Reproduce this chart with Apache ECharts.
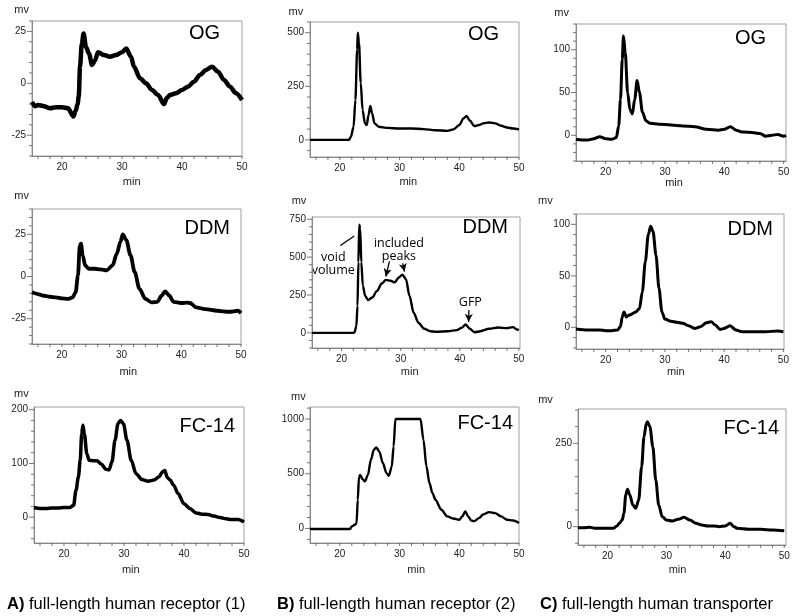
<!DOCTYPE html>
<html>
<head>
<meta charset="utf-8">
<script src="https://cdn.jsdelivr.net/npm/echarts@6/dist/echarts.min.js"></script>
<style>html,body{margin:0;padding:0;background:#fff;}#c{width:800px;height:616px;}</style>
</head>
<body>
<div id="c"></div>
<script>
// ---------------- DATA ----------------
const xLabels = [20, 30, 40, 50];

// A) receptor (1)
const a1 = [[15,-9],[15.5,-11],[16,-10.4],[17,-11],[18,-12],[19,-11.5],[20,-11.5],[21,-12],[21.9,-16],[22.3,-13],[22.6,-10],[22.8,-6],[23.0,8],[23.3,19],[23.6,24],[24.0,17.5],[24.5,14.4],[25,8.8],[25.5,11],[26,15],[27,13.6],[28,12.8],[29,13.6],[30,15],[30.7,16.7],[31.5,12.8],[32,8],[33,2.4],[34,0],[35,-3.2],[36,-5.6],[37,-10],[37.5,-7],[38,-5.6],[39,-4.8],[40,-3.2],[41,-1.6],[42,0.8],[43,4],[44,6.4],[45,8],[46,5.6],[47,1.6],[48,-1.6],[49,-4.8],[50,-8]];
const a2 = [[15,-9.4],[16,-10.4],[17,-11.4],[18,-12],[19,-12.4],[20,-13],[21,-13.3],[21.8,-12.4],[22.3,-9.4],[22.7,0.6],[23.0,18.5],[23.2,19.5],[23.5,12.5],[23.9,6.6],[24.5,4.6],[25.5,4.6],[26.5,4.2],[27.5,3.6],[28.5,6.6],[29.2,13.5],[29.8,20.5],[30.2,25],[30.8,21.5],[31.5,12.5],[32.2,2.6],[33,-7.4],[34,-13.3],[35,-15.3],[36,-15],[36.7,-11.4],[37.3,-8.8],[38,-11.4],[38.7,-15],[40,-15.7],[41,-15.5],[41.5,-15.7],[42.5,-18.3],[44,-19.3],[46,-20.3],[48,-20.9],[49.5,-20.3],[50,-21.7]];
const a3 = [[15,18],[16,16],[17,16],[18,17],[19,17],[20,18],[21,18],[21.6,22],[22.0,50],[22.4,75],[22.7,106],[22.95,155],[23.15,171],[23.4,155],[23.8,118],[24.2,106],[25,105],[25.5,105],[26.2,99],[27,89],[27.5,88],[28,103],[28.5,143],[29,174],[29.4,180],[29.9,174],[30.5,143],[31.2,106],[32,81],[33,70],[34,67],[35,69],[35.8,75],[36.5,85],[36.8,87],[37.2,74],[37.7,69],[38.3,59],[39,44],[40,25],[41,16],[42,8],[43,5.6],[44,5],[45,2],[46,-0.6],[47,-3],[48,-4.3],[49,-4.3],[50,-9]];

// B) receptor (2)
const b1 = [[15,0],[18,0],[21.5,0],[21.85,14],[22.3,61],[22.6,186],[22.9,422],[23.0,500],[23.2,453],[23.5,265],[23.8,140],[24.2,77],[24.5,69],[24.8,116],[25.1,158],[25.4,124],[25.8,77],[26.5,61],[28,56],[30,53],[32,53],[34,50],[36,45],[38,42],[39,49],[40,69],[40.7,100],[41.2,111],[41.8,89],[42.5,64],[43.3,69],[44,77],[45,81],[46,77],[47,66],[48,58],[49,53],[50,49]];
const b2 = [[15,0],[18,0],[22.0,0],[22.2,4],[22.5,44],[22.7,177],[22.85,466],[23.0,714],[23.15,688],[23.35,466],[23.6,311],[24,244],[24.5,217],[25.2,233],[26,277],[26.8,326],[27.5,350],[28.3,344],[29,333],[29.7,366],[30.3,384],[30.9,355],[31.5,244],[32.2,133],[33,67],[34,27],[35,11],[36,7],[38,11],[39.5,18],[40.3,33],[41.0,55],[41.7,27],[42.5,4],[43.5,11],[45,27],[46.5,35],[48,31],[49,38],[49.7,22],[50,18]];
const b3 = [[15,-5],[18,-5],[21.7,-5],[22,18],[22.5,34],[22.8,49],[23.0,262],[23.2,470],[23.4,490],[23.8,451],[24.2,430],[24.7,490],[25.2,628],[25.7,720],[26.1,741],[26.6,704],[27.2,598],[27.8,506],[28.2,482],[28.7,567],[29.0,750],[29.3,1000],[29.5,1000],[33.5,1000],[34,811],[34.5,567],[35,415],[35.5,323],[36,262],[37,171],[38,110],[39,91],[40,79],[40.5,110],[41.0,155],[41.5,110],[42,73],[42.5,67],[43.3,94],[44,128],[45,149],[46,140],[47,110],[48,79],[49,73],[50,49]];

// C) transporter
const c1 = [[15,-4.7],[16,-5.5],[17,-5.5],[18,-4],[19,-1.6],[20,-4],[21,-4.7],[21.8,-2.7],[22.2,11],[22.5,42],[22.8,89],[23.0,116],[23.3,97],[23.7,50],[24.1,30],[24.5,25],[24.9,42],[25.3,64],[25.7,50],[26.2,27],[26.8,17],[27.5,14],[29,13],[31,12],[33,11],[35,10],[37,7],[39,6],[40,7],[41,10],[42,6],[43,4],[45,3],[46,2],[47,-1],[48,0],[49,1],[50,-1],[50.4,0]];
const c2 = [[15,-1.6],[17,-2.6],[19,-2.6],[20,-3.2],[21,-3.2],[22,-2.6],[22.5,0.6],[22.8,10],[23.1,15],[23.5,10],[24,12],[25,14.6],[25.7,18],[26.2,34.6],[26.7,64],[27.2,90],[27.6,98],[28.0,93],[28.5,70],[29.0,38],[29.5,15],[30,8],[31,6],[32,5],[33,4],[34,1.6],[35,-1],[36,0.6],[37,4.5],[37.8,5.5],[38.5,2.3],[39.3,-2],[40,-1],[41,1.6],[42,-2.6],[43,-4.2],[45,-4.2],[47,-4.2],[49,-3.6],[50,-4.2]];
const c3 = [[15,-3],[16,-3],[17,-2],[18,-5],[19,-5],[20,-5],[21,-5],[21.6,2],[22,10],[22.5,20],[22.8,40],[23.1,95],[23.4,112],[23.8,95],[24.3,65],[24.8,55],[25.3,80],[25.8,180],[26.2,270],[26.6,310],[26.8,315],[27.2,300],[27.7,240],[28.2,140],[28.7,65],[29.3,30],[30,20],[31,17],[32,22],[33,28],[34,20],[35,10],[36,5],[37,2],[38,2],[39,0],[40,2],[40.8,10],[41.5,0],[42,-5],[44,-8],[46,-8],[48,-10],[50,-12]];

// Y tick labels per panel
const yMajA1 = [-25, 0, 25], yMajA2 = [-25, 0, 25], yMajA3 = [0, 100, 200];
const yMajB1 = [0, 250, 500], yMajB2 = [0, 250, 500, 750], yMajB3 = [0, 500, 1000];
const yMajC1 = [0, 50, 100], yMajC2 = [0, 50, 100], yMajC3 = [0, 250];

const titles = ['OG', 'OG', 'OG', 'DDM', 'DDM', 'DDM', 'FC-14', 'FC-14', 'FC-14'];
const captions = [['A)', ' full-length human receptor (1)'], ['B)', ' full-length human receptor (2)'], ['C)', ' full-length human transporter']];

// ---------------- LAYOUT ----------------
function seq(a, b, s) { const r = []; for (let v = a; v <= b + 1e-9; v += s) r.push(+v.toFixed(6)); return r; }
const panels = [
  {data: a1, maj: yMajA1, grid: {left: 32, top: 21, width: 210, height: 135}, y: [-35, 30], xmax: 50, step: 5, lw: 4.5, title: [220, 33], mv: [21.7, 10], min: [131.7, 182]},
  {data: b1, maj: yMajB1, grid: {left: 310, top: 22, width: 209, height: 135}, y: [-80, 550], xmax: 50, step: 50, lw: 2.4, title: [499, 34], mv: [295.8, 11.7], min: [408.3, 181.7]},
  {data: c1, maj: yMajC1, grid: {left: 576, top: 24, width: 210, height: 137}, y: [-30, 130], xmax: 50.4, step: 10, lw: 3, title: [766, 38.5], mv: [561.7, 13], min: [674, 182.7]},
  {data: a2, maj: yMajA2, grid: {left: 32, top: 209, width: 209, height: 135}, y: [-40, 40], xmax: 50, step: 5, lw: 3.8, title: [230, 228], mv: [21.7, 196], min: [128.3, 371.7]},
  {data: b2, maj: yMajB2, grid: {left: 312, top: 217, width: 208, height: 131}, y: [-100, 765], xmax: 50.2, step: 50, lw: 2.4, title: [508, 227], mv: [299, 201], min: [409.7, 371.7]},
  {data: c2, maj: yMajC2, grid: {left: 576, top: 214, width: 208, height: 135}, y: [-21, 110], xmax: 50.1, step: 10, lw: 3, title: [773, 229.7], mv: [545.3, 201.3], min: [675.8, 371.7]},
  {data: a3, maj: yMajA3, grid: {left: 34, top: 407, width: 210, height: 136}, y: [-48, 205], xmax: 50, step: 20, lw: 3.5, title: [235, 426], mv: [21.3, 394], min: [130.8, 570]},
  {data: b3, maj: yMajB3, grid: {left: 310, top: 407, width: 209, height: 136}, y: [-133, 1110], xmax: 50, step: 100, lw: 2.4, title: [513, 423], mv: [298.3, 396.7], min: [416.2, 570]},
  {data: c3, maj: yMajC3, grid: {left: 578, top: 409, width: 208, height: 136}, y: [-55, 353], xmax: 50.3, step: 50, lw: 3, title: [779, 428.5], mv: [545.5, 400], min: [677.5, 570]}
];

const FONT = 'Liberation Sans, Arial, Helvetica, sans-serif';
const plain = v => String(v);
const TICK = '#555';
const grids = [], xAxes = [], yAxes = [], series = [], tickSeries = [];
panels.forEach((p, i) => {
  grids.push(Object.assign({show: true, borderColor: '#a0a0a0', borderWidth: 1, backgroundColor: 'transparent'}, p.grid));
  xAxes.push({
    type: 'value', gridIndex: i, min: 15, max: p.xmax, position: 'bottom',
    axisLine: {show: true, onZero: false, lineStyle: {color: '#888', width: 1}},
    axisTick: {show: false},
    axisLabel: {show: true, customValues: xLabels, margin: 6, fontSize: 10, color: '#222', fontFamily: FONT, formatter: plain},
    splitLine: {show: false}
  });
  yAxes.push({
    type: 'value', gridIndex: i, min: p.y[0], max: p.y[1], position: 'left',
    axisLine: {show: true, onZero: false, lineStyle: {color: '#888', width: 1}},
    axisTick: {show: false},
    axisLabel: {show: true, customValues: p.maj, margin: 6, fontSize: 10, color: '#222', fontFamily: FONT, formatter: plain},
    splitLine: {show: false}
  });
  series.push({
    type: 'line', xAxisIndex: i, yAxisIndex: i, data: p.data,
    showSymbol: false, symbol: 'none', smooth: 0.3, smoothMonotone: 'x',
    lineStyle: {color: '#000', width: p.lw, join: 'round'}, silent: true, clip: true
  });
  // tick marks, placed through the axes' own scales (axis min = edge of the plot)
  const lo = Math.ceil(p.y[0] / p.step) * p.step;
  const minors = seq(lo, p.y[1], p.step).filter(v => p.maj.indexOf(v) < 0);
  const tickBase = {type: 'scatter', xAxisIndex: i, yAxisIndex: i, silent: true, clip: false, z: 4,
    symbol: 'rect', itemStyle: {color: TICK}, emphasis: {disabled: true}, animation: false};
  tickSeries.push(Object.assign({}, tickBase, {data: p.maj.map(v => [15, v]), symbolSize: [5, 1], symbolOffset: [-2.5, 0]}));
  tickSeries.push(Object.assign({}, tickBase, {data: minors.map(v => [15, v]), symbolSize: [3, 1], symbolOffset: [-1.5, 0]}));
  tickSeries.push(Object.assign({}, tickBase, {data: seq(16, 50, 2).map(v => [v, p.y[0]]), symbolSize: [1, 3], symbolOffset: [0, 1.5]}));
});

// B2 annotations (data coordinates)
series[4].markLine = {
  silent: true, animation: false, symbol: ['none', 'none'], symbolSize: [6, 8],
  label: {show: false}, lineStyle: {color: '#000', width: 1.3, type: 'solid'},
  emphasis: {disabled: true},
  data: [
    [{coord: [19.8, 577]}, {coord: [22.15, 639]}],
    [{coord: [28.1, 472]}, {coord: [27.5, 372], symbol: 'arrow'}],
    [{coord: [30.35, 459]}, {coord: [30.65, 405], symbol: 'arrow'}],
    [{coord: [41.55, 150]}, {coord: [41.5, 72], symbol: 'arrow'}]
  ]
};
const notes = [
  {text: 'void\nvolume', at: [18.6, 457]},
  {text: 'included\npeaks', at: [29.7, 545]},
  {text: 'GFP', at: [41.8, 200]}
];

const chart = echarts.init(document.getElementById('c'), null, {renderer: 'canvas'});
chart.setOption({
  animation: false,
  backgroundColor: '#fff',
  grid: grids, xAxis: xAxes, yAxis: yAxes, series: series.concat(tickSeries)
});

const g = [];
panels.forEach((p, i) => {
  g.push({type: 'text', x: p.title[0], y: p.title[1], silent: true,
    style: {text: titles[i], font: '20px ' + FONT, fill: '#000', textAlign: 'right', textVerticalAlign: 'middle'}});
  g.push({type: 'text', x: p.mv[0], y: p.mv[1], silent: true,
    style: {text: 'mv', font: '11px ' + FONT, fill: '#222', textAlign: 'center', textVerticalAlign: 'middle'}});
  g.push({type: 'text', x: p.min[0], y: p.min[1], silent: true,
    style: {text: 'min', font: '11px ' + FONT, fill: '#222', textAlign: 'center', textVerticalAlign: 'middle'}});
});
notes.forEach(n => {
  const pt = chart.convertToPixel({seriesIndex: 4}, n.at);
  g.push({type: 'text', x: pt[0], y: pt[1], silent: true,
    style: {text: n.text, font: '12.5px "Open Sans", ' + FONT, lineHeight: 13, fill: '#000', textAlign: 'center', textVerticalAlign: 'middle'}});
});
const capX = [7, 277, 540];
captions.forEach((c, i) => {
  g.push({type: 'text', x: capX[i], y: 604, silent: true,
    style: {text: '{b|' + c[0] + '}' + c[1], font: '16.5px ' + FONT, fill: '#000', textVerticalAlign: 'middle',
      rich: {b: {fontWeight: 'bold', fontSize: 16.5, fontFamily: FONT}}}});
});
chart.setOption({graphic: g});
</script>
</body>
</html>
